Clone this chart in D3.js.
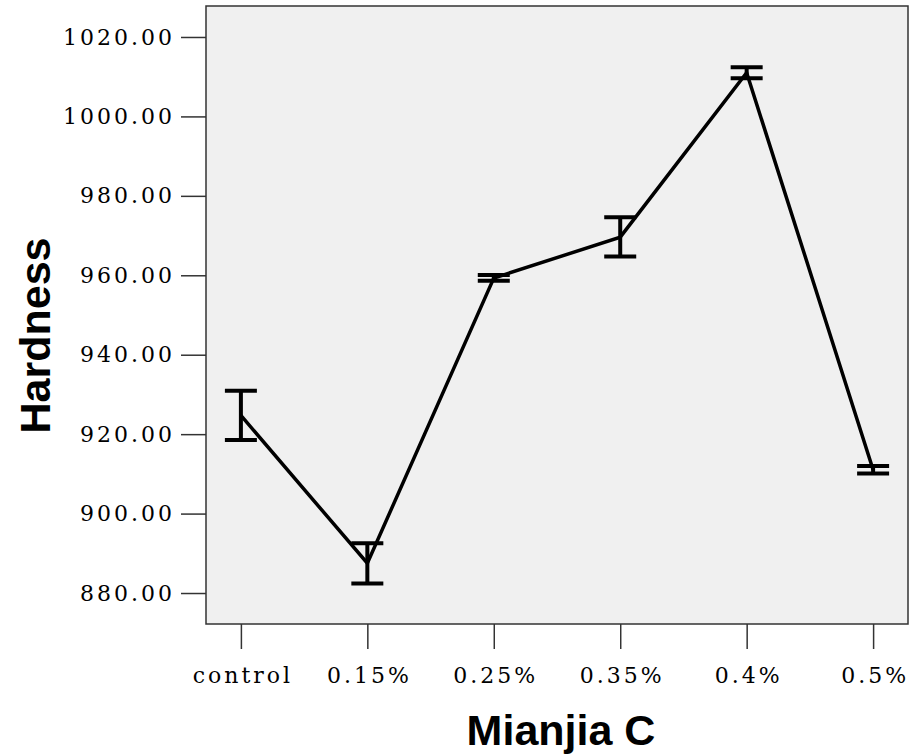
<!DOCTYPE html>
<html>
<head>
<meta charset="utf-8">
<script src="https://cdn.jsdelivr.net/npm/d3@7"></script>
<style>
  html, body { margin: 0; padding: 0; background: #fff; }
  svg { display: block; }
</style>
</head>
<body>
<svg id="chart" width="917" height="754"></svg>
<script>
const categories = ["control", "0.15%", "0.25%", "0.35%", "0.4%", "0.5%"];
const means = [924.7, 887.5, 959.3, 969.6, 1011.0, 911.05];
const lower = [918.5, 882.4, 958.6, 964.7, 1009.6, 910.1];
const upper = [930.9, 892.5, 960.1, 974.6, 1012.4, 912.0];
const yTicks = [880, 900, 920, 940, 960, 980, 1000, 1020];
const xTitle = "Mianjia C";
const yTitle = "Hardness";

const svg = d3.select("#chart");
const plot = { left: 206, right: 908, top: 6, bottom: 624 };

const x = d3.scalePoint().domain(categories).range([plot.left, plot.right]).padding(0.276);
const y = d3.scaleLinear().domain([872.2, 1027.8]).range([plot.bottom, plot.top]);

// plot background
svg.append("rect")
  .attr("x", plot.left).attr("y", plot.top)
  .attr("width", plot.right - plot.left).attr("height", plot.bottom - plot.top)
  .attr("fill", "#f0f0f0").attr("stroke", "#333").attr("stroke-width", 1.5);

const tickFont = "'DejaVu Serif', serif";
const ls = 3;

// y axis
const yAxis = d3.axisLeft(y).tickValues(yTicks).tickSize(25).tickPadding(9)
  .tickFormat(d3.format(".2f"));
const gy = svg.append("g").attr("transform", `translate(${plot.left},0)`).call(yAxis);
gy.select(".domain").remove();
gy.selectAll(".tick line").attr("stroke", "#333").attr("stroke-width", 1.5);
gy.selectAll(".tick text")
  .attr("fill", "#000")
  .style("font-family", tickFont).style("font-size", "22px")
  .style("letter-spacing", ls + "px")
  .attr("dx", ls);

// x axis
const xAxis = d3.axisBottom(x).tickSize(25).tickPadding(18);
const gx = svg.append("g").attr("transform", `translate(0,${plot.bottom})`).call(xAxis);
gx.select(".domain").remove();
gx.selectAll(".tick line").attr("stroke", "#333").attr("stroke-width", 1.5);
gx.selectAll(".tick text")
  .attr("fill", "#000")
  .style("font-family", tickFont).style("font-size", "22px")
  .style("letter-spacing", ls + "px")
  .attr("dx", ls / 2);

// line
const line = d3.line().x((d, i) => x(categories[i])).y(d => y(d));
svg.append("path").datum(means).attr("d", line)
  .attr("fill", "none").attr("stroke", "#000").attr("stroke-width", 3.5)
  .attr("stroke-linejoin", "miter");

// error bars
const capHalf = 16;
const eb = svg.append("g").attr("stroke", "#000").attr("stroke-width", 4);
categories.forEach((c, i) => {
  const cx = x(c);
  eb.append("line").attr("x1", cx).attr("x2", cx).attr("y1", y(lower[i])).attr("y2", y(upper[i]));
  eb.append("line").attr("x1", cx - capHalf).attr("x2", cx + capHalf).attr("y1", y(lower[i])).attr("y2", y(lower[i]));
  eb.append("line").attr("x1", cx - capHalf).attr("x2", cx + capHalf).attr("y1", y(upper[i])).attr("y2", y(upper[i]));
});

// titles
const titleFont = "'Liberation Sans', Arial, sans-serif";
svg.append("text")
  .attr("x", 561).attr("y", 745)
  .attr("text-anchor", "middle")
  .style("font-family", titleFont).style("font-weight", "bold").style("font-size", "43px")
  .text(xTitle);

svg.append("text")
  .attr("transform", "translate(50,335.5) rotate(-90)")
  .attr("text-anchor", "middle")
  .style("font-family", titleFont).style("font-weight", "bold").style("font-size", "43px")
  .text(yTitle);
</script>
</body>
</html>
